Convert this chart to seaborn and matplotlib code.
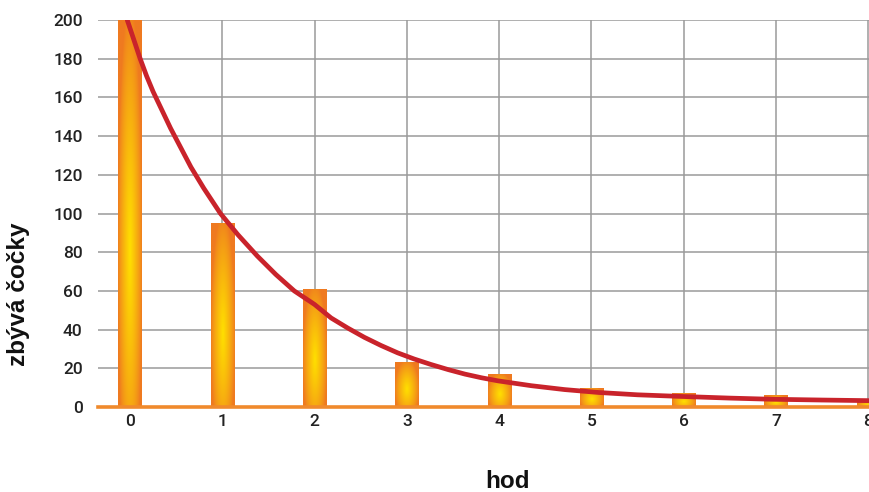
import seaborn as sns
import matplotlib.pyplot as plt
import numpy as np
from matplotlib.colors import to_rgb

sns.set_style("white")
plt.rcParams["font.family"] = ["Liberation Sans", "DejaVu Sans"]

# bars: remaining lentils after each throw
hod = [0, 1, 2, 3, 4, 5, 6, 7, 8]
zbyva = [200, 95, 61, 23, 17, 10, 7, 6, 3]

# decay curve, points
curve_x = [-0.03, 0.04, 0.11, 0.18, 0.25, 0.34, 0.44, 0.55, 0.66, 0.8, 0.98,
           1.17, 1.38, 1.58, 1.78, 2.0, 2.18, 2.36, 2.54, 2.72, 2.90, 3.08,
           3.26, 3.45, 3.63, 3.81, 3.99, 4.35, 4.71, 5.08, 5.5, 5.95, 6.5,
           6.96, 7.5, 7.98, 8.1]
curve_y = [200, 190, 180, 171, 163, 154, 144, 134, 124, 113, 100,
           89, 78, 68.5, 60, 53, 46, 40.8, 36, 31.8, 28, 24.8,
           22, 19.3, 17, 15.1, 13.5, 11, 9, 7.5, 6.3, 5.5, 4.6,
           4.0, 3.6, 3.3, 3.2]

yticks = list(range(0, 201, 20))

orange = np.array(to_rgb("#EF7A20"))
yellow = np.array(to_rgb("#FFE000"))

fig = plt.figure(figsize=(8.7, 4.92), dpi=100)
ax = fig.add_axes([98 / 870, 1 - 407 / 492, 1 - 98 / 870, (407 - 20) / 492])

sns.barplot(x=hod, y=zbyva, width=0.25, color=orange, ax=ax, zorder=2)

# radial orange -> yellow gradient inside each bar
gx = np.linspace(-1, 1, 60)
for p in ax.patches:
    x0, w, h = p.get_x(), p.get_width(), p.get_height()
    gy = np.linspace(0, 1, 200)[:, None]
    v = (gy - 0.4) / 0.65
    t = np.clip(1 - np.sqrt(0.95 * gx[None, :] ** 2 + v ** 2), 0, 1) ** 0.8
    img = orange + (yellow - orange) * t[..., None]
    im = ax.imshow(img, extent=[x0, x0 + w, 0, h], origin="lower",
                   aspect="auto", zorder=2.5, interpolation="bilinear")
    im.set_clip_path(p)
    p.set_facecolor("none")
    p.set_edgecolor("none")

sns.lineplot(x=curve_x, y=curve_y, color="#C9232B", linewidth=3.4,
             estimator=None, ax=ax, zorder=4)

ax.set_xlim(-0.347, 8.02)
ax.set_ylim(0, 200)
ax.set_xticks(hod)
ax.set_xticklabels([str(h) for h in hod])
ax.set_yticks(yticks)
ax.grid(True, color="#9a9a9a", linewidth=1.1, zorder=0)
ax.set_axisbelow(True)

for s in ["top", "right", "left"]:
    ax.spines[s].set_visible(False)
ax.spines["bottom"].set_color("#F08A2C")
ax.spines["bottom"].set_linewidth(2.6)
ax.spines["bottom"].set_zorder(3)

ax.tick_params(axis="y", length=0, pad=11, labelsize=12.5, labelcolor="#222222")
ax.tick_params(axis="x", length=0, pad=5, labelsize=12.5, labelcolor="#222222")
for lab in ax.get_xticklabels() + ax.get_yticklabels():
    lab.set_family(["Roboto", "Liberation Sans", "DejaVu Sans"])
    lab.set_fontweight(500)

ax.set_ylabel("zbývá čočky", fontsize=17.5, fontweight="bold", color="#111111")
ax.yaxis.set_label_coords(-0.088, 0.292)
ax.set_xlabel("hod", fontsize=17.5, fontweight="bold", color="#111111")
ax.xaxis.set_label_coords(0.53, -0.163)

plt.savefig("out.png", dpi=100)
plt.close()
